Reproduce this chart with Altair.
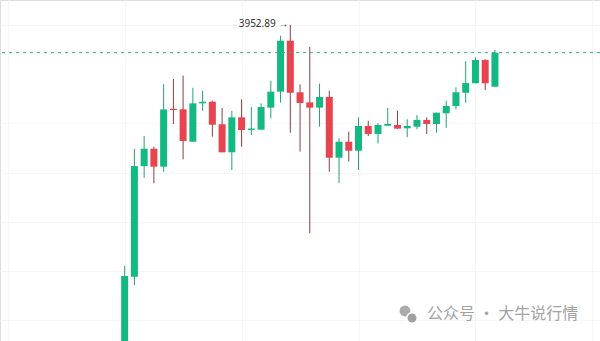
import altair as alt
import pandas as pd

opens  = [3680.5, 3748.2, 3838.2, 3852.3, 3837.7, 3884.8, 3884.3, 3858.0, 3889.2, 3890.5,
          3872.2, 3849.4, 3877.8, 3867.5, 3867.8, 3885.7, 3898.7, 3940.1, 3898.2, 3890.0,
          3885.7, 3894.4, 3845.0, 3858.0, 3850.7, 3870.8, 3864.3, 3871.0, 3871.6, 3868.9,
          3870.2, 3875.7, 3872.4, 3881.1, 3887.0, 3897.8, 3905.5, 3924.4, 3902.7]
highs  = [3757.2, 3852.3, 3862.6, 3853.9, 3904.7, 3909.0, 3911.7, 3901.9, 3899.5, 3891.3,
          3885.4, 3883.0, 3892.5, 3886.2, 3889.2, 3907.6, 3944.2, 3952.89, 3904.7, 3935.0,
          3905.2, 3899.5, 3860.8, 3866.1, 3877.8, 3875.1, 3873.0, 3885.6, 3883.2, 3876.2,
          3879.7, 3877.8, 3881.6, 3891.3, 3902.2, 3923.6, 3926.6, 3925.0, 3932.6]
lows   = [3664.3, 3741.5, 3828.7, 3824.2, 3833.6, 3872.4, 3843.7, 3858.0, 3883.2, 3862.1,
          3849.4, 3835.0, 3853.9, 3863.5, 3867.8, 3877.0, 3889.7, 3865.3, 3849.9, 3783.5,
          3870.2, 3833.6, 3824.2, 3841.8, 3835.0, 3862.6, 3856.7, 3871.0, 3868.6, 3861.6,
          3868.1, 3864.3, 3865.3, 3869.4, 3884.3, 3889.7, 3905.5, 3900.0, 3902.7]
closes = [3748.8, 3838.2, 3852.3, 3837.7, 3884.3, 3883.8, 3858.6, 3889.2, 3890.5, 3871.8,
          3849.4, 3877.8, 3867.5, 3868.7, 3886.2, 3898.7, 3940.1, 3897.8, 3889.5, 3885.7,
          3894.4, 3845.0, 3858.0, 3850.7, 3870.8, 3864.3, 3871.6, 3872.4, 3868.6, 3870.8,
          3875.7, 3872.4, 3881.6, 3887.0, 3898.2, 3905.7, 3924.4, 3905.5, 3930.4]
grid_prices = [3952.9, 3892.9, 3872.9, 3852.9, 3832.9, 3812.9, 3792.9, 3772.9, 3752.9, 3732.9, 3712.9]
grid_index = [-12, 0, 12, 24, 36, 48]
high_label = "3952.89 →"
watermark = "公众号 · 大牛说行情"

GREEN = "#14b882"
RED = "#e8434f"
GREEN_WICK = "#23a276"
RED_WICK = "#8f3c44"
GRID = "#f6f6f6"

df = pd.DataFrame({
    "i": list(range(len(opens))),
    "open": opens, "high": highs, "low": lows, "close": closes,
})

xs = alt.Scale(domain=[-12.28, 48.27], nice=False, zero=False)
ys = alt.Scale(domain=[3696.0, 3973.2], nice=False, zero=False)

x_enc = alt.X("i:Q", scale=xs, axis=alt.Axis(values=grid_index, labels=False, ticks=False,
                                              domain=False, title=None, grid=True,
                                              gridColor=GRID, gridWidth=1))
y_axis = alt.Axis(values=grid_prices, labels=False, ticks=False, domain=False, title=None,
                  grid=True, gridColor=GRID, gridWidth=1)

up = "datum.open <= datum.close"

wicks = alt.Chart(df).mark_rule(strokeWidth=1, clip=True).encode(
    x=x_enc,
    y=alt.Y("low:Q", scale=ys, axis=y_axis),
    y2="high:Q",
    color=alt.condition(up, alt.value(GREEN_WICK), alt.value(RED_WICK)),
)

bodies = alt.Chart(df).mark_bar(size=7, clip=True).encode(
    x=alt.X("i:Q", scale=xs),
    y=alt.Y("open:Q", scale=ys),
    y2="close:Q",
    color=alt.condition(up, alt.value(GREEN), alt.value(RED)),
)

last_df = pd.DataFrame({"price": [closes[-1]]})
last_line = alt.Chart(last_df).mark_rule(strokeDash=[3, 4], strokeWidth=1, color="#3aa88a").encode(
    y=alt.Y("price:Q", scale=ys)
)

hi_idx = highs.index(max(highs))
hi_df = pd.DataFrame({"i": [hi_idx], "price": [highs[hi_idx]], "label": [high_label]})
hi_text = alt.Chart(hi_df).mark_text(align="right", baseline="middle", dx=-2, dy=-1,
                                     fontSize=10, color="#333333", font="Noto Sans").encode(
    x=alt.X("i:Q", scale=xs), y=alt.Y("price:Q", scale=ys), text="label:N"
)

wm_df = pd.DataFrame({"t": [watermark]})
wm_text = alt.Chart(wm_df).mark_text(align="left", baseline="middle", fontSize=16,
                                     color="#a3a3a3", font="Noto Sans CJK SC").encode(
    x=alt.value(427), y=alt.value(314), text="t:N"
)
icon_back = alt.Chart(wm_df).mark_point(filled=True, shape="circle", size=120, color="#ababab", opacity=1).encode(
    x=alt.value(405), y=alt.value(311)
)
icon_front = alt.Chart(wm_df).mark_point(filled=True, shape="circle", size=110, color="#a0a0a0",
                                         stroke="white", strokeWidth=1.5, opacity=1).encode(
    x=alt.value(412), y=alt.value(318)
)

chart = alt.layer(wicks, bodies, last_line, hi_text, icon_back, icon_front, wm_text).properties(
    width=600, height=341, padding=0, autosize=alt.AutoSizeParams(type="none")
).configure_view(stroke=None).configure(background="white")

chart.save("out.html", embed_options={"renderer": "svg", "actions": False})
